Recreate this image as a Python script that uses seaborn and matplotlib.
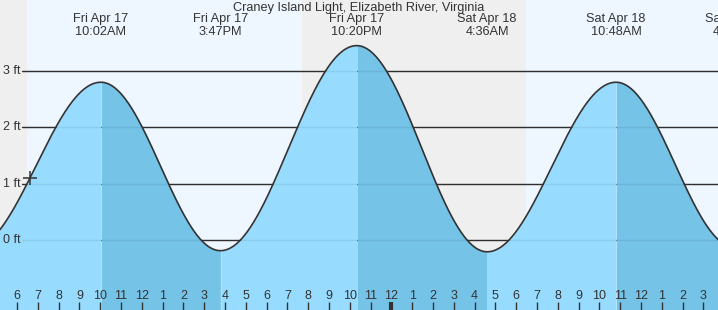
import numpy as np
import pandas as pd
import matplotlib
matplotlib.use("Agg")
import matplotlib.pyplot as plt
import seaborn as sns

# ---------------- data (hours from Fri Apr 17 00:00) ----------------
title = "Craney Island Light, Elizabeth River, Virginia"
extreme_hours = [3.8, 10.03, 15.78, 22.33, 28.6, 34.8, 40.5]
extreme_feet = [-0.16, 2.8, -0.19, 3.45, -0.21, 2.8, -0.13]
label_hours = [10.03, 15.78, 22.33, 28.6, 34.8, 40.5]
label_dates = ["Fri Apr 17", "Fri Apr 17", "Fri Apr 17", "Sat Apr 18", "Sat Apr 18", "Sat Apr 18"]
label_times = ["10:02AM", "3:47PM", "10:20PM", "4:36AM", "10:48AM", "4:36PM"]
sunrise_hours = [6.48, 30.47]
sunset_hours = [19.7, 43.7]
y_ticks = [0, 1, 2, 3]
y_labels = ["0 ft", "1 ft", "2 ft", "3 ft"]
hour_ticks = list(range(6, 40))
hour_labels = [str((h % 12) or 12) for h in hour_ticks]
now_hour = 6.63

# ---------------- layout ----------------
W, H = 718, 310
XMIN, XMAX = 5.18, 39.7
YMIN, YMAX = -1.243, 4.26
TXT = "#333333"
FONT = ["Liberation Sans", "DejaVu Sans"]

sns.set_theme(style="white")
plt.rcParams["font.family"] = FONT

fig = plt.figure(figsize=(W / 100, H / 100), dpi=100)
ax = fig.add_axes([0, 0, 1, 1])
ax.set_xlim(XMIN, XMAX)
ax.set_ylim(YMIN, YMAX)
ax.axis("off")
ax.set_facecolor("#efefef")
ax.axvspan(XMIN, XMAX, color="#efefef", zorder=0)
for sr, ss in zip(sunrise_hours, sunset_hours):
    ax.axvspan(sr, ss, color="#eef6ff", zorder=0.5, lw=0)


def tide_at(t):
    eh = np.array(extreme_hours)
    ev = np.array(extreme_feet)
    i = np.clip(np.searchsorted(eh, t) - 1, 0, len(eh) - 2)
    f = (t - eh[i]) / (eh[i + 1] - eh[i])
    return ev[i] + (ev[i + 1] - ev[i]) * (1 - np.cos(np.pi * f)) / 2


t = np.linspace(XMIN - 0.2, XMAX + 0.2, 2000)
v = tide_at(t)
df = pd.DataFrame({"hour": t, "feet": v})

# grid lines (behind fill)
x0 = XMIN + (XMAX - XMIN) * 22 / W
for yv in y_ticks:
    ax.plot([x0, XMAX], [yv, yv], color=TXT, lw=1, zorder=1)

# fills per segment
for a, b, va, vb in zip(extreme_hours[:-1], extreme_hours[1:], extreme_feet[:-1], extreme_feet[1:]):
    m = (t >= a) & (t <= b)
    col = "#97dcfe" if vb > va else "#75c3e7"
    ax.fill_between(t[m], YMIN, v[m], color=col, lw=0, zorder=2)

# faint grid lines inside fill
for yv in y_ticks:
    ax.plot([x0, XMAX], [yv, yv], color="#000000", alpha=0.07, lw=1, zorder=3)

sns.lineplot(data=df, x="hour", y="feet", ax=ax, color=TXT, lw=1.2, zorder=4, sort=False)
ax.plot([now_hour], [tide_at(np.array([now_hour]))[0]], marker="+", ms=10, mew=1.1, color=TXT, zorder=5)

# hour ticks and labels
tick_len = 8 * (YMAX - YMIN) / H
for h, lab in zip(hour_ticks, hour_labels):
    lw = 3 if h % 24 == 0 else 1
    ax.plot([h, h], [YMIN, YMIN + tick_len], color=TXT, lw=lw, zorder=6, solid_capstyle="butt")
    ax.text(h, YMIN + 14 * (YMAX - YMIN) / H, lab, ha="center", va="center", fontsize=9, color=TXT, zorder=6)

# y labels
for yv, lab in zip(y_ticks, y_labels):
    ax.text(XMIN + (XMAX - XMIN) * 20.5 / W, yv, lab, ha="right", va="center", fontsize=9, color=TXT, zorder=6)

# title and extreme labels
fig.text(0.5, 1 - 7.5 / H, title, ha="center", va="center", fontsize=9.2, color=TXT)
for h, d, tm in zip(label_hours, label_dates, label_times):
    ax.text(h, YMAX - 19 * (YMAX - YMIN) / H, d, ha="center", va="center", fontsize=9.2, color=TXT, clip_on=False)
    ax.text(h, YMAX - 32 * (YMAX - YMIN) / H, tm, ha="center", va="center", fontsize=9.2, color=TXT, clip_on=False)

fig.savefig("out.png", dpi=100)
